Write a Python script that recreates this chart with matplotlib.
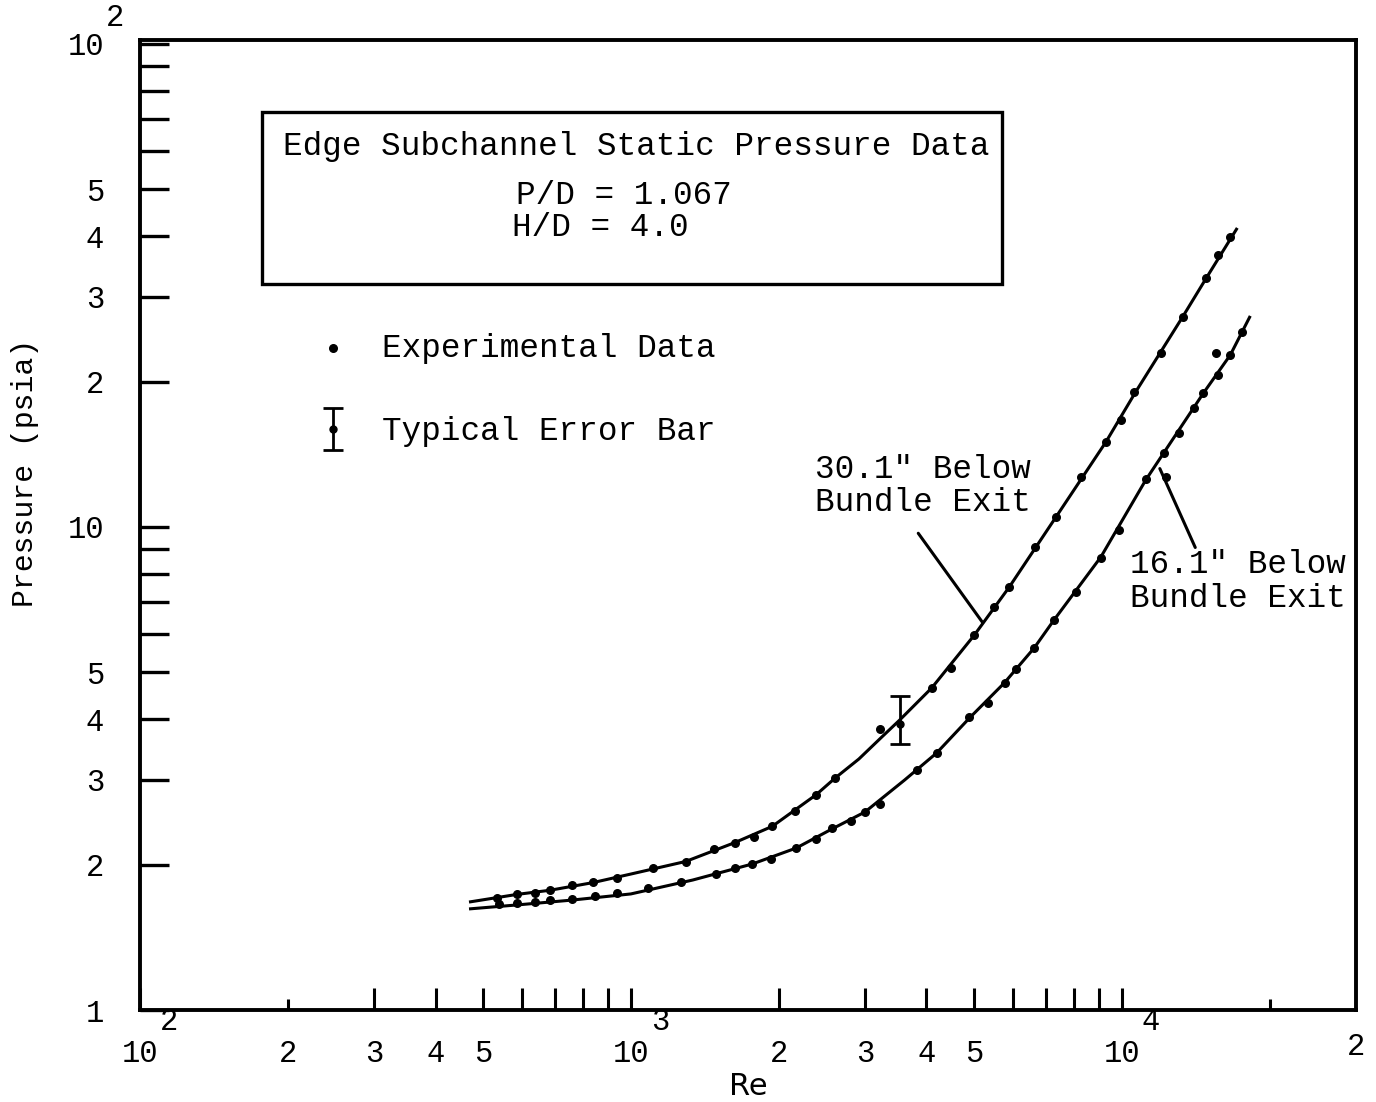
import matplotlib
matplotlib.use("Agg")
import matplotlib.pyplot as plt
from matplotlib.patches import Rectangle
from matplotlib.legend_handler import HandlerErrorbar
from matplotlib.container import ErrorbarContainer

plt.rcParams['font.family'] = ['Liberation Mono', 'DejaVu Sans Mono']

# ---------------- data ----------------
# 30.1" below bundle exit: experimental points
re_up = [534, 586, 638, 685, 757, 836, 935, 1108, 1293, 1479, 1626, 1784, 1941,
         2161, 2384, 2605, 3214, 4100, 4478, 5009, 5495, 5900, 6661, 7346,
         8257, 9280, 9950, 10575, 12000, 13300, 14870, 15730, 16640]
p_up = [1.705, 1.739, 1.747, 1.772, 1.815, 1.841, 1.876, 1.968, 2.025, 2.154,
        2.217, 2.281, 2.404, 2.582, 2.787, 3.022, 3.818, 4.642, 5.107, 5.975,
        6.831, 7.511, 9.09, 10.49, 12.69, 14.99, 16.66, 19.03, 22.93, 27.21,
        32.78, 36.57, 39.85]

# 16.1" below bundle exit: experimental points
re_lo = [539, 586, 638, 685, 760, 844, 935, 1083, 1263, 1494, 1626, 1768, 1932,
         2171, 2384, 2568, 2808, 2998, 3214, 3821, 4196, 4895, 5348, 5790,
         6095, 6630, 7278, 8067, 9066, 9861, 11190, 12280, 12170, 13050,
         14060, 14670, 15580, 15730, 16640, 17600]
p_lo = [1.658, 1.665, 1.673, 1.689, 1.697, 1.722, 1.747, 1.789, 1.841, 1.912,
        1.968, 2.006, 2.054, 2.164, 2.259, 2.381, 2.462, 2.570, 2.670, 3.140,
        3.405, 4.043, 4.321, 4.753, 5.082, 5.617, 6.420, 7.336, 8.626, 9.858,
        12.57, 12.69, 14.23, 15.65, 17.63, 18.94, 22.93, 20.64, 22.71, 25.33]

# drawn curves
re_curve_up = [468, 586, 685, 836, 1000, 1293, 1626, 1941, 2384, 2605, 2914,
               3245, 3529, 4100, 5009, 5900, 7346, 9280, 10670, 13300, 14870, 17190]
p_curve_up = [1.673, 1.735, 1.770, 1.835, 1.912, 2.03, 2.22, 2.40, 2.79, 3.02,
              3.309, 3.675, 3.985, 4.642, 5.975, 7.511, 10.49, 14.99, 19.03,
              27.21, 32.78, 41.6]

re_curve_lo = [468, 586, 760, 1000, 1336, 1768, 2171, 2568, 2998, 3612, 4196,
               4895, 5762, 6630, 7278, 9066, 11190, 14670, 16640, 18270]
p_curve_lo = [1.619, 1.650, 1.689, 1.739, 1.858, 2.006, 2.164, 2.370, 2.570,
              2.994, 3.405, 4.023, 4.753, 5.617, 6.420, 8.667, 12.51, 18.94,
              22.71, 27.35]

# typical error bar
err_re = [3529]
err_p = [3.909]
err_low = [0.354]
err_high = [0.561]

# ticks
x_major = [1e2, 3e2, 4e2, 5e2, 6e2, 7e2, 8e2, 9e2, 1e3, 2e3, 3e3, 4e3, 5e3,
           6e3, 7e3, 8e3, 9e3, 1e4]
x_major_labels = ['10', '3', '4', '5', '', '', '', '', '10', '2', '3', '4', '5',
                  '', '', '', '', '10']
x_minor = [2e2, 2e4]
x_minor_labels = ['2', '']
y_major = [1, 10, 100]
y_major_labels = ['1', '10', '10']
y_minor = [2, 3, 4, 5, 6, 7, 8, 9, 20, 30, 40, 50, 60, 70, 80, 90]
y_minor_labels = ['2', '3', '4', '5', '', '', '', '', '2', '3', '4', '5', '', '', '', '']

# ---------------- figure ----------------
W, H = 1376, 1102
fig = plt.figure(figsize=(W / 100, H / 100), dpi=100)
ax = fig.add_axes([140 / W, 1 - 1010 / H, 1216 / W, 970 / H])
ax.set_xscale('log')
ax.set_yscale('log')
ax.set_xlim(100, 3.0e4)
ax.set_ylim(1, 101.9)

lw = 2.2
ax.plot(re_curve_up, p_curve_up, color='black', lw=lw, solid_capstyle='butt')
ax.plot(re_curve_lo, p_curve_lo, color='black', lw=lw, solid_capstyle='butt')
sc = ax.scatter(re_up, p_up, s=30, color='black', zorder=3)
ax.scatter(re_lo, p_lo, s=30, color='black', zorder=3)
eb = ax.errorbar(err_re, err_p, yerr=[err_low, err_high], fmt='o', ms=5,
                 color='black', elinewidth=2.0, capsize=7, capthick=2.0)

for s in ax.spines.values():
    s.set_linewidth(2.8)

ax.xaxis.set_major_locator(matplotlib.ticker.FixedLocator(x_major))
ax.xaxis.set_major_formatter(matplotlib.ticker.FixedFormatter(x_major_labels))
ax.xaxis.set_minor_locator(matplotlib.ticker.FixedLocator(x_minor))
ax.xaxis.set_minor_formatter(matplotlib.ticker.FixedFormatter(x_minor_labels))
ax.yaxis.set_major_locator(matplotlib.ticker.FixedLocator(y_major))
ax.yaxis.set_major_formatter(matplotlib.ticker.FixedFormatter(y_major_labels))
ax.yaxis.set_minor_locator(matplotlib.ticker.FixedLocator(y_minor))
ax.yaxis.set_minor_formatter(matplotlib.ticker.FixedFormatter(y_minor_labels))

tfs = 22
ax.tick_params(axis='x', which='major', direction='in', length=16, width=2.2,
               pad=21, labelsize=tfs)
ax.tick_params(axis='x', which='minor', direction='in', length=8, width=2.2,
               pad=21, labelsize=tfs)
ax.tick_params(axis='y', which='both', direction='in', length=21, width=2.4,
               pad=26, labelsize=tfs)

# exponents of the decade labels
for xv, e in [(1e2, '2'), (1e3, '3'), (1e4, '4')]:
    ax.annotate(e, xy=(xv, 0), xycoords=ax.get_xaxis_transform(),
                xytext=(21, -9), textcoords='offset points',
                ha='center', va='center', fontsize=tfs)
ax.annotate('2', xy=(0, 100), xycoords=ax.get_yaxis_transform(),
            xytext=(-18, 19), textcoords='offset points',
            ha='center', va='center', fontsize=tfs)
ax.text(1.0, -0.038, '2', transform=ax.transAxes, ha='center', va='center',
        fontsize=tfs)

ax.set_xlabel('Re', fontsize=22, labelpad=2, family='DejaVu Sans')
ax.set_ylabel('Pressure (psia)', fontsize=21.5)
ax.yaxis.set_label_coords(-0.083, 0.5536)

# title box
fs = 23.5
ax.add_patch(Rectangle((0.1003, 0.7485), 0.6086, 0.1773, transform=ax.transAxes,
                       fill=False, lw=2.4, color='black'))
ax.text(0.1176, 0.8907, 'Edge Subchannel Static Pressure Data',
        transform=ax.transAxes, ha='left', va='center', fontsize=fs)
ax.text(0.3095, 0.8402, 'P/D = 1.067', transform=ax.transAxes,
        ha='left', va='center', fontsize=fs)
ax.text(0.3062, 0.8062, 'H/D = 4.0', transform=ax.transAxes,
        ha='left', va='center', fontsize=fs)

# legend
ax.legend([sc, eb], ['Experimental Data', 'Typical Error Bar'],
          loc='upper left', bbox_to_anchor=((317 - 140) / 1216, (1010 - 333) / 970),
          frameon=False, borderpad=0, borderaxespad=0, handlelength=1.0,
          handletextpad=1.0, labelspacing=1.6, scatterpoints=1, fontsize=fs,
          handler_map={ErrorbarContainer: HandlerErrorbar(yerr_size=0.64)})

# curve annotations
ax.annotate('', xy=(5248, 6.27), xytext=(3820, 9.81),
            arrowprops=dict(arrowstyle='-', lw=2.2, color='black'))
ax.text(0.555, 0.5577, '30.1" Below', transform=ax.transAxes, ha='left',
        va='center', fontsize=fs)
ax.text(0.555, 0.5227, 'Bundle Exit', transform=ax.transAxes, ha='left',
        va='center', fontsize=fs)
ax.annotate('', xy=(11890, 13.37), xytext=(14190, 8.96),
            arrowprops=dict(arrowstyle='-', lw=2.2, color='black'))
ax.text(0.814, 0.4588, '16.1" Below', transform=ax.transAxes, ha='left',
        va='center', fontsize=fs)
ax.text(0.814, 0.4247, 'Bundle Exit', transform=ax.transAxes, ha='left',
        va='center', fontsize=fs)

fig.savefig('out.png', dpi=100)
